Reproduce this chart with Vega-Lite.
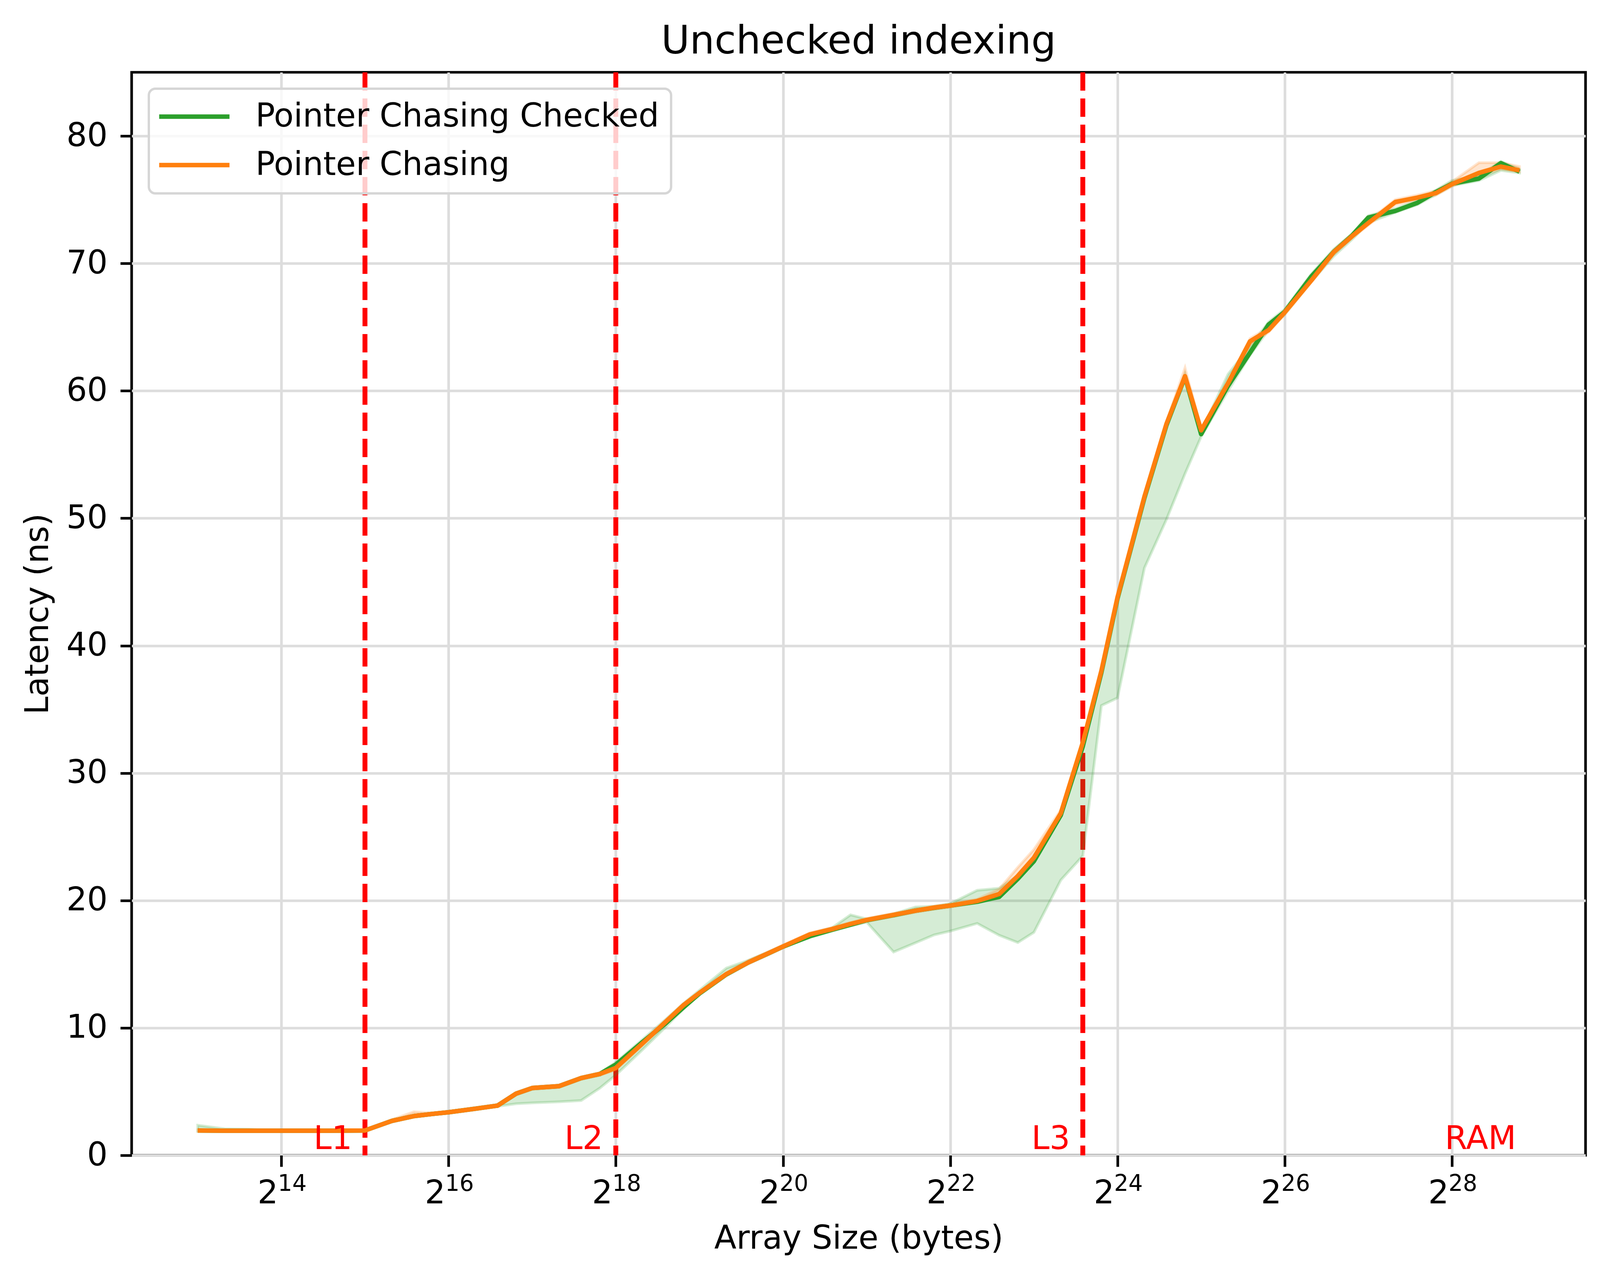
{
  "$schema": "https://vega.github.io/schema/vega-lite/v6.json",
  "width": 3722,
  "height": 2772,
  "autosize": {"type": "none"},
  "padding": {"left": 337, "top": 185, "right": 59, "bottom": 314},
  "background": "white",
  "title": {
    "text": "Unchecked indexing",
    "font": "DejaVu Sans",
    "fontSize": 100,
    "fontWeight": "normal",
    "color": "black",
    "frame": "group",
    "anchor": "middle",
    "offset": 21
  },
  "config": {
    "view": {"stroke": "black", "strokeWidth": 6.7},
    "font": "DejaVu Sans",
    "axis": {
      "labelFont": "DejaVu Sans",
      "labelFontSize": 83,
      "labelColor": "black",
      "titleFont": "DejaVu Sans",
      "titleFontSize": 83,
      "titleFontWeight": "normal",
      "titleColor": "black",
      "tickColor": "black",
      "tickWidth": 6.7,
      "tickSize": 29,
      "domain": false,
      "grid": true,
      "gridColor": "#dddddd",
      "gridWidth": 6.7,
      "labelFlush": false,
      "labelOverlap": false
    },
    "legend": {"strokeWidth": 6}
  },
  "resolve": {"axis": {"x": "independent"}},
  "datasets": {
    "checked": [
      {"size": 8192, "latency": 1.95, "low": 1.88, "high": 2.36},
      {"size": 10240, "latency": 1.93, "low": 1.88, "high": 2.08},
      {"size": 12288, "latency": 1.93, "low": 1.9, "high": 2.05},
      {"size": 14336, "latency": 1.93, "low": 1.9, "high": 1.98},
      {"size": 16384, "latency": 1.93, "low": 1.89, "high": 1.97},
      {"size": 20480, "latency": 1.93, "low": 1.89, "high": 1.97},
      {"size": 24576, "latency": 1.93, "low": 1.89, "high": 1.97},
      {"size": 28672, "latency": 1.94, "low": 1.9, "high": 1.98},
      {"size": 32768, "latency": 1.95, "low": 1.91, "high": 1.99},
      {"size": 40960, "latency": 2.7, "low": 2.62, "high": 2.78},
      {"size": 49152, "latency": 3.08, "low": 3.0, "high": 3.15},
      {"size": 57344, "latency": 3.25, "low": 3.18, "high": 3.3},
      {"size": 65536, "latency": 3.38, "low": 3.3, "high": 3.45},
      {"size": 81920, "latency": 3.66, "low": 3.58, "high": 3.74},
      {"size": 98304, "latency": 3.9, "low": 3.85, "high": 3.98},
      {"size": 114688, "latency": 4.84, "low": 4.05, "high": 4.9},
      {"size": 131072, "latency": 5.28, "low": 4.12, "high": 5.33},
      {"size": 163840, "latency": 5.43, "low": 4.2, "high": 5.48},
      {"size": 196608, "latency": 6.06, "low": 4.3, "high": 6.1},
      {"size": 229376, "latency": 6.38, "low": 5.27, "high": 6.45},
      {"size": 262144, "latency": 7.12, "low": 6.3, "high": 7.3},
      {"size": 327680, "latency": 8.9, "low": 8.3, "high": 9.1},
      {"size": 393216, "latency": 10.3, "low": 10.0, "high": 10.6},
      {"size": 458752, "latency": 11.6, "low": 11.5, "high": 11.9},
      {"size": 524288, "latency": 12.7, "low": 12.6, "high": 12.95},
      {"size": 655360, "latency": 14.2, "low": 14.1, "high": 14.69},
      {"size": 786432, "latency": 15.14, "low": 15.05, "high": 15.3},
      {"size": 917504, "latency": 15.8, "low": 15.7, "high": 15.9},
      {"size": 1048576, "latency": 16.38, "low": 16.3, "high": 16.45},
      {"size": 1310720, "latency": 17.2, "low": 17.1, "high": 17.4},
      {"size": 1572864, "latency": 17.7, "low": 17.6, "high": 17.85},
      {"size": 1835008, "latency": 18.1, "low": 18.0, "high": 18.87},
      {"size": 2097152, "latency": 18.45, "low": 18.3, "high": 18.55},
      {"size": 2621440, "latency": 18.85, "low": 15.96, "high": 18.95},
      {"size": 3145728, "latency": 19.2, "low": 16.68, "high": 19.49},
      {"size": 3670016, "latency": 19.42, "low": 17.3, "high": 19.55},
      {"size": 4194304, "latency": 19.6, "low": 17.6, "high": 19.75},
      {"size": 5242880, "latency": 19.9, "low": 18.2, "high": 20.8},
      {"size": 6291456, "latency": 20.28, "low": 17.27, "high": 20.96},
      {"size": 7340032, "latency": 21.7, "low": 16.7, "high": 21.95},
      {"size": 8388608, "latency": 23.08, "low": 17.5, "high": 23.3},
      {"size": 10485760, "latency": 26.7, "low": 21.6, "high": 26.9},
      {"size": 12582912, "latency": 32.1, "low": 23.5, "high": 32.3},
      {"size": 14680064, "latency": 37.9, "low": 35.3, "high": 38.1},
      {"size": 16777216, "latency": 43.7, "low": 35.9, "high": 43.9},
      {"size": 20971520, "latency": 51.6, "low": 46.1, "high": 51.8},
      {"size": 25165824, "latency": 57.3, "low": 49.9, "high": 57.5},
      {"size": 29360128, "latency": 61.1, "low": 53.5, "high": 61.3},
      {"size": 33554432, "latency": 56.6, "low": 56.4, "high": 56.8},
      {"size": 41943040, "latency": 60.4, "low": 60.0, "high": 61.3},
      {"size": 50331648, "latency": 63.0, "low": 62.8, "high": 63.5},
      {"size": 58720256, "latency": 65.2, "low": 64.8, "high": 65.4},
      {"size": 67108864, "latency": 66.2, "low": 66.0, "high": 66.4},
      {"size": 83886080, "latency": 69.0, "low": 68.6, "high": 69.2},
      {"size": 100663296, "latency": 70.9, "low": 70.56, "high": 71.1},
      {"size": 117440512, "latency": 72.2, "low": 71.9, "high": 72.35},
      {"size": 134217728, "latency": 73.6, "low": 73.2, "high": 73.75},
      {"size": 167772160, "latency": 74.12, "low": 74.0, "high": 74.3},
      {"size": 201326592, "latency": 74.75, "low": 74.6, "high": 74.95},
      {"size": 234881024, "latency": 75.6, "low": 75.4, "high": 75.75},
      {"size": 268435456, "latency": 76.25, "low": 76.1, "high": 76.5},
      {"size": 335544320, "latency": 76.66, "low": 76.5, "high": 76.9},
      {"size": 402653184, "latency": 77.87, "low": 77.3, "high": 78.0},
      {"size": 469762048, "latency": 77.2, "low": 77.1, "high": 77.4}
    ],
    "plain": [
      {"size": 8192, "latency": 1.95, "low": 1.9, "high": 2.0},
      {"size": 10240, "latency": 1.93, "low": 1.89, "high": 1.97},
      {"size": 12288, "latency": 1.93, "low": 1.89, "high": 1.97},
      {"size": 14336, "latency": 1.93, "low": 1.89, "high": 1.97},
      {"size": 16384, "latency": 1.93, "low": 1.89, "high": 1.97},
      {"size": 20480, "latency": 1.93, "low": 1.89, "high": 1.97},
      {"size": 24576, "latency": 1.93, "low": 1.89, "high": 1.97},
      {"size": 28672, "latency": 1.94, "low": 1.9, "high": 1.98},
      {"size": 32768, "latency": 1.95, "low": 1.91, "high": 1.99},
      {"size": 40960, "latency": 2.7, "low": 2.62, "high": 2.8},
      {"size": 49152, "latency": 3.08, "low": 3.0, "high": 3.42},
      {"size": 57344, "latency": 3.25, "low": 3.18, "high": 3.32},
      {"size": 65536, "latency": 3.38, "low": 3.3, "high": 3.45},
      {"size": 81920, "latency": 3.66, "low": 3.58, "high": 3.74},
      {"size": 98304, "latency": 3.9, "low": 3.82, "high": 3.98},
      {"size": 114688, "latency": 4.84, "low": 4.74, "high": 4.94},
      {"size": 131072, "latency": 5.28, "low": 5.18, "high": 5.38},
      {"size": 163840, "latency": 5.43, "low": 5.33, "high": 5.53},
      {"size": 196608, "latency": 6.06, "low": 5.96, "high": 6.16},
      {"size": 229376, "latency": 6.38, "low": 6.28, "high": 6.48},
      {"size": 262144, "latency": 6.86, "low": 6.7, "high": 7.0},
      {"size": 327680, "latency": 8.8, "low": 8.65, "high": 8.95},
      {"size": 393216, "latency": 10.4, "low": 10.25, "high": 10.55},
      {"size": 458752, "latency": 11.77, "low": 11.65, "high": 11.9},
      {"size": 524288, "latency": 12.74, "low": 12.62, "high": 12.86},
      {"size": 655360, "latency": 14.22, "low": 14.1, "high": 14.34},
      {"size": 786432, "latency": 15.14, "low": 15.02, "high": 15.3},
      {"size": 917504, "latency": 15.81, "low": 15.69, "high": 15.93},
      {"size": 1048576, "latency": 16.39, "low": 16.27, "high": 16.51},
      {"size": 1310720, "latency": 17.34, "low": 17.22, "high": 17.46},
      {"size": 1572864, "latency": 17.75, "low": 17.63, "high": 17.87},
      {"size": 1835008, "latency": 18.16, "low": 18.04, "high": 18.28},
      {"size": 2097152, "latency": 18.47, "low": 18.35, "high": 18.59},
      {"size": 2621440, "latency": 18.87, "low": 18.75, "high": 18.99},
      {"size": 3145728, "latency": 19.2, "low": 19.08, "high": 19.32},
      {"size": 3670016, "latency": 19.44, "low": 19.32, "high": 19.56},
      {"size": 4194304, "latency": 19.6, "low": 19.48, "high": 19.72},
      {"size": 5242880, "latency": 19.96, "low": 19.85, "high": 20.1},
      {"size": 6291456, "latency": 20.51, "low": 20.4, "high": 20.9},
      {"size": 7340032, "latency": 21.92, "low": 21.8, "high": 22.6},
      {"size": 8388608, "latency": 23.36, "low": 23.2, "high": 24.0},
      {"size": 10485760, "latency": 26.85, "low": 26.7, "high": 27.1},
      {"size": 12582912, "latency": 32.4, "low": 32.2, "high": 32.6},
      {"size": 14680064, "latency": 38.03, "low": 37.9, "high": 38.2},
      {"size": 16777216, "latency": 43.8, "low": 43.65, "high": 43.95},
      {"size": 20971520, "latency": 51.7, "low": 51.55, "high": 51.85},
      {"size": 25165824, "latency": 57.4, "low": 57.25, "high": 57.55},
      {"size": 29360128, "latency": 61.15, "low": 61.0, "high": 61.8},
      {"size": 33554432, "latency": 56.9, "low": 56.75, "high": 57.05},
      {"size": 41943040, "latency": 60.6, "low": 60.45, "high": 60.75},
      {"size": 50331648, "latency": 63.88, "low": 63.6, "high": 64.1},
      {"size": 58720256, "latency": 64.77, "low": 64.6, "high": 64.95},
      {"size": 67108864, "latency": 66.17, "low": 66.0, "high": 66.35},
      {"size": 83886080, "latency": 68.7, "low": 68.55, "high": 68.85},
      {"size": 100663296, "latency": 70.88, "low": 70.7, "high": 71.05},
      {"size": 117440512, "latency": 72.15, "low": 72.0, "high": 72.3},
      {"size": 134217728, "latency": 73.17, "low": 73.0, "high": 73.35},
      {"size": 167772160, "latency": 74.82, "low": 74.6, "high": 75.0},
      {"size": 201326592, "latency": 75.16, "low": 75.0, "high": 75.35},
      {"size": 234881024, "latency": 75.52, "low": 75.35, "high": 75.7},
      {"size": 268435456, "latency": 76.22, "low": 76.05, "high": 76.4},
      {"size": 335544320, "latency": 77.1, "low": 76.9, "high": 77.9},
      {"size": 402653184, "latency": 77.6, "low": 77.4, "high": 77.9},
      {"size": 469762048, "latency": 77.3, "low": 77.2, "high": 77.6}
    ],
    "caches": [
      {"size": 32768},
      {"size": 262144},
      {"size": 12582912}
    ],
    "labels": [
      {"size": 29491.2, "label": "L1"},
      {"size": 235929.6, "label": "L2"},
      {"size": 11324620.8, "label": "L3"},
      {"size": 457000000, "label": "RAM"}
    ]
  },
  "encoding": {
    "x": {
      "field": "size",
      "type": "quantitative",
      "scale": {"type": "log", "base": 2, "domain": [4736.5, 812280000], "nice": false},
      "axis": null
    }
  },
  "layer": [
    {
      "data": {"name": "caches"},
      "mark": {"type": "rule", "color": "red", "strokeWidth": 12.5, "strokeDash": [47, 20]},
      "encoding": {
        "x": {
          "field": "size",
          "type": "quantitative",
          "scale": {"type": "log", "base": 2, "domain": [4736.5, 812280000], "nice": false},
          "axis": {
            "orient": "bottom",
            "title": null,
            "grid": false,
            "tickColor": "transparent",
            "values": [16384, 65536, 262144, 1048576, 4194304, 16777216, 67108864, 268435456],
            "labelExpr": "datum.value == 16384 ? '14' : datum.value == 65536 ? '16' : datum.value == 262144 ? '18' : datum.value == 1048576 ? '20' : datum.value == 4194304 ? '22' : datum.value == 16777216 ? '24' : datum.value == 67108864 ? '26' : '28'",
            "labelFontSize": 58,
            "labelBaseline": "alphabetic",
            "labelPadding": 61,
            "labelOffset": 27.5
          }
        }
      }
    },
    {
      "data": {"name": "checked"},
      "mark": {"type": "area", "fill": "#2ca02c", "fillOpacity": 0.2, "stroke": "#2ca02c", "strokeOpacity": 0.2, "strokeWidth": 7},
      "encoding": {
        "x": {
          "field": "size",
          "type": "quantitative",
          "scale": {"type": "log", "base": 2, "domain": [4736.5, 812280000], "nice": false},
          "axis": {
            "orient": "bottom",
            "grid": true,
            "gridColor": "#dddddd",
            "gridWidth": 6.7,
            "title": "Array Size (bytes)",
            "titleY": 238,
            "titleBaseline": "alphabetic",
            "values": [16384, 65536, 262144, 1048576, 4194304, 16777216, 67108864, 268435456],
            "labelExpr": "'2'",
            "labelBaseline": "alphabetic",
            "labelPadding": 93,
            "labelOffset": -35
          }
        },
        "y": {
          "field": "low",
          "type": "quantitative",
          "title": "Latency (ns)",
          "scale": {"domain": [0, 85], "nice": false, "zero": false},
          "axis": {
            "values": [0, 10, 20, 30, 40, 50, 60, 70, 80],
            "labelPadding": 33,
            "titleX": -215,
            "titleY": 1386,
            "titleBaseline": "alphabetic"
          }
        },
        "y2": {"field": "high"}
      }
    },
    {
      "data": {"name": "plain"},
      "mark": {"type": "area", "fill": "#ff7f0e", "fillOpacity": 0.2, "stroke": "#ff7f0e", "strokeOpacity": 0.2, "strokeWidth": 7},
      "encoding": {
        "y": {"field": "low", "type": "quantitative", "title": "Latency (ns)"},
        "y2": {"field": "high"}
      }
    },
    {
      "data": {"name": "checked"},
      "mark": {"type": "line", "strokeWidth": 11.5, "strokeJoin": "round"},
      "encoding": {
        "y": {"field": "latency", "type": "quantitative", "title": "Latency (ns)"},
        "color": {
          "datum": "Pointer Chasing Checked",
          "type": "nominal",
          "scale": {"domain": ["Pointer Chasing Checked", "Pointer Chasing"], "range": ["#2ca02c", "#ff7f0e"]},
          "legend": {
            "title": null,
            "orient": "none",
            "legendX": 44,
            "legendY": 42,
            "symbolType": "M-2,0H6",
            "symbolSize": 2025,
            "symbolStrokeWidth": 11.5,
            "symbolOpacity": 1,
            "labelFont": "DejaVu Sans",
            "labelFontSize": 83,
            "labelColor": "black",
            "labelOffset": 160,
            "labelLimit": 0,
            "padding": 30,
            "rowPadding": 40,
            "fillColor": "rgba(255,255,255,0.8)",
            "strokeColor": "#d6d6d6",
            "cornerRadius": 17
          }
        }
      }
    },
    {
      "data": {"name": "plain"},
      "mark": {"type": "line", "strokeWidth": 11.5, "strokeJoin": "round"},
      "encoding": {
        "y": {"field": "latency", "type": "quantitative", "title": "Latency (ns)"},
        "color": {"datum": "Pointer Chasing", "type": "nominal"}
      }
    },
    {
      "data": {"name": "labels"},
      "mark": {"type": "text", "align": "right", "baseline": "alphabetic", "font": "DejaVu Sans", "fontSize": 83, "color": "red"},
      "encoding": {
        "y": {"datum": 0.5},
        "text": {"field": "label"}
      }
    }
  ]
}
